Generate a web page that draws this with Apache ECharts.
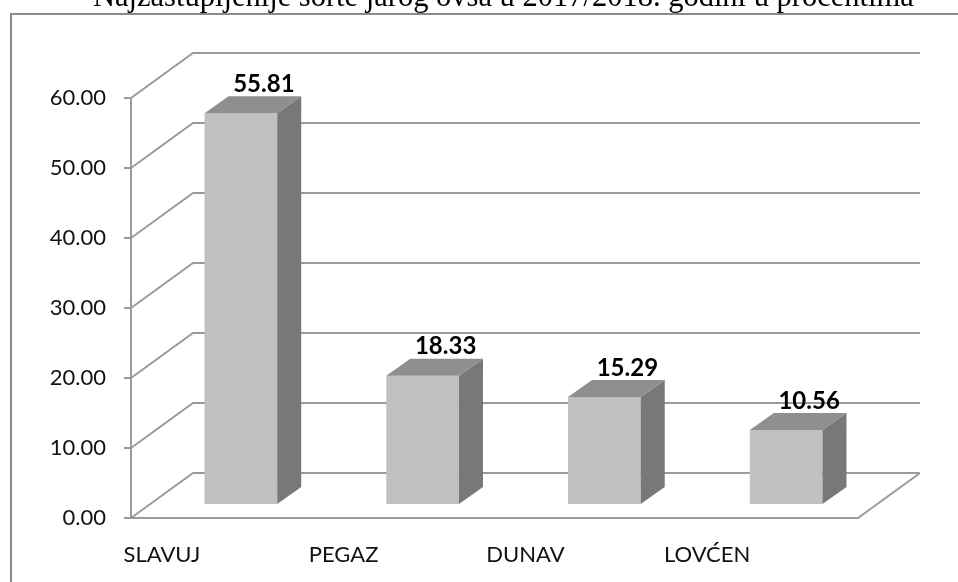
<!DOCTYPE html>
<html>
<head>
<meta charset="utf-8">
<script src="https://cdn.jsdelivr.net/npm/echarts@6.0.0/dist/echarts.min.js"></script>
<style>
html, body { margin: 0; padding: 0; background: #fff; }
#chart { width: 958px; height: 582px; }
</style>
</head>
<body>
<div id="chart"></div>
<script>
var titleText = 'Najzastupljenije sorte jarog ovsa u 2017/2018. godini u procentima';
var categories = ['SLAVUJ', 'PEGAZ', 'DUNAV', 'LOVĆEN'];
var values = [55.81, 18.33, 15.29, 10.56];
var yTicks = [0, 10, 20, 30, 40, 50, 60];

// fake 3d: how far the back wall sits behind the front plane
var WALL_DEPTH = [62, -45];
var BAR_SHIFT = [19, -14];   // bar front face pushed into the floor
var BAR_DEPTH = [24, -17];
var LINE = { fill: 'none', stroke: '#9a9a9a', lineWidth: 2 };

function renderWall(params, api) {
    var cs = params.coordSys;
    var v = api.value(1);
    var y = api.coord([0, v])[1];
    var x0 = cs.x, x1 = cs.x + cs.width;
    var children = [{
        type: 'polyline',
        shape: { points: [[x0, y], [x0 + WALL_DEPTH[0], y + WALL_DEPTH[1]], [x1 + WALL_DEPTH[0], y + WALL_DEPTH[1]]] },
        style: LINE
    }];
    if (v === 0) {
        // right edge of the floor
        children.push({
            type: 'line',
            shape: { x1: x1, y1: y, x2: x1 + WALL_DEPTH[0], y2: y + WALL_DEPTH[1] },
            style: LINE
        });
    }
    return { type: 'group', children: children };
}

function renderBar(params, api) {
    var i = api.value(0), v = api.value(1);
    var base = api.coord([i, 0]);
    var top = api.coord([i, v]);
    var w = api.size([1, 0])[0] * 0.4;
    var xl = base[0] - w / 2 + BAR_SHIFT[0], xr = xl + w;
    var yb = base[1] + BAR_SHIFT[1], yt = top[1] + BAR_SHIFT[1];
    var dx = BAR_DEPTH[0], dy = BAR_DEPTH[1];
    return {
        type: 'group',
        children: [{
            type: 'rect',
            shape: { x: xl, y: yt, width: w, height: yb - yt },
            style: { fill: '#c0c0c0', stroke: 'none' }
        }, {
            type: 'polygon',
            shape: { points: [[xr, yb], [xr + dx, yb + dy], [xr + dx, yt + dy], [xr, yt]] },
            style: { fill: '#787878', stroke: 'none' }
        }, {
            type: 'polygon',
            shape: { points: [[xl, yt], [xl + dx, yt + dy], [xr + dx, yt + dy], [xr, yt]] },
            style: { fill: '#8f8f8f', stroke: 'none' }
        }, {
            type: 'text',
            x: (xl + xr) / 2 + 23,
            y: yt + dy - 12,
            style: {
                text: v.toFixed(2),
                fill: '#000',
                fontFamily: 'Lato',
                fontWeight: 'bold',
                fontSize: 24,
                align: 'center',
                verticalAlign: 'middle'
            }
        }]
    };
}

option = {
    backgroundColor: '#fff',
    animation: false,
    title: {
        text: titleText,
        left: 93,
        top: -18,
        padding: 0,
        textStyle: {
            fontFamily: 'Liberation Serif',
            fontWeight: 'normal',
            fontSize: 30.5,
            color: '#000'
        }
    },
    graphic: [{
        type: 'rect',
        shape: { x: 11, y: 14, width: 1000, height: 600 },
        style: { fill: null, stroke: '#8a8a8a', lineWidth: 2 },
        silent: true
    }],
    grid: {
        left: 131,
        top: 98,
        width: 727,
        height: 420
    },
    xAxis: {
        type: 'category',
        data: categories,
        axisLine: { lineStyle: { color: '#9a9a9a', width: 2 } },
        axisTick: { length: 8, lineStyle: { color: '#9a9a9a', width: 2 } },
        axisLabel: {
            margin: 26,
            padding: [0, 120, 0, 0],
            fontFamily: 'Lato',
            fontSize: 22,
            color: '#111'
        },
        splitLine: { show: false }
    },
    yAxis: {
        type: 'value',
        min: 0,
        max: 60,
        interval: 10,
        axisLine: { show: true, lineStyle: { color: '#9a9a9a', width: 2 } },
        axisTick: { show: true, length: 7, lineStyle: { color: '#9a9a9a', width: 2 } },
        axisLabel: {
            margin: 25,
            fontFamily: 'Lato',
            fontSize: 22,
            color: '#111',
            formatter: function (v) { return v.toFixed(2); }
        },
        splitLine: { show: false }
    },
    series: [{
        name: 'wall',
        type: 'custom',
        renderItem: renderWall,
        data: yTicks.map(function (v) { return [0, v]; }),
        silent: true,
        z: 1
    }, {
        name: 'sorte',
        type: 'custom',
        renderItem: renderBar,
        data: values.map(function (v, i) { return [i, v]; }),
        z: 3
    }]
};

var chart = echarts.init(document.getElementById('chart'));
chart.setOption(option);
</script>
</body>
</html>
